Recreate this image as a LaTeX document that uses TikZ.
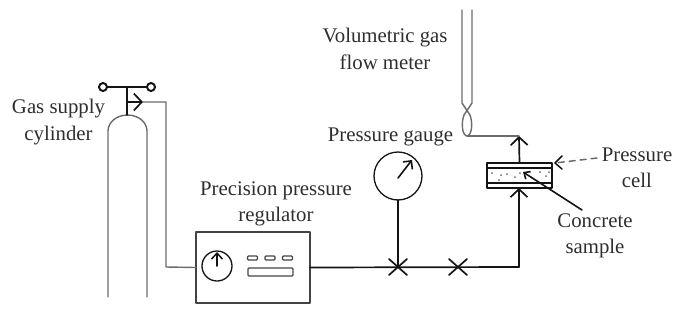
\documentclass[tikz,border=0pt]{standalone}
\usepackage{fontspec}
\setmainfont{Liberation Serif}
\usetikzlibrary{arrows.meta,calc}
\definecolor{RigInk}{gray}{0.08}
\definecolor{RigThin}{gray}{0.42}
\definecolor{RigText}{gray}{0.18}
\tikzset{
    rig/diagram/.style={
        x=1pt, y=-1pt,
        line cap=round,
        line join=round,
        every node/.style={inner sep=0pt, outer sep=0pt}
    },
    rig/label/.style={font=\fontsize{20.8}{26.5}\selectfont, text=RigText, align=center},
    rig/pipe/.style={draw=RigInk, line width=1.7pt},
    rig/thin/.style={draw=RigThin, line width=1.4pt},
    rig/box/.style={draw=RigInk!80!white, line width=1.4pt},
    rig/flow/.style={draw=RigInk, line width=1.7pt, -{Straight Barb[length=8pt, width=17pt, line width=1.7pt]}},
    rig/dial/.style={circle, draw=RigInk, line width=1.3pt, fill=white, inner sep=0pt},
    rig/knob/.style={circle, draw=RigInk, line width=2pt, fill=white, inner sep=0pt, minimum size=8pt},
    rig/lamp/.style={rounded corners=1pt, draw=RigInk!80!white, line width=1.3pt},
    rig/valve/.style={draw=RigInk, line width=1.7pt}
}
\begin{document}
\begin{tikzpicture}[rig/diagram]
    \useasboundingbox (0,0) rectangle (681,322);
    % cylinder
    \draw[rig/thin] (108,297) -- (108,131) arc[start angle=180, end angle=0, x radius=19.5, y radius=-16] -- (147,297);
    \node[rig/knob] (knobL) at (103,87) {};
    \node[rig/knob] (knobR) at (151,87) {};
    \draw[rig/pipe] (knobL) -- (knobR);
    \coordinate (stemTop) at (127,87);
    \coordinate (stemEnd) at (127,115);
    \draw[rig/pipe] (stemTop) -- (stemEnd);
    \coordinate (outTee) at (127,102);
    \coordinate (outTip) at (143,102);
    \draw[rig/flow] (outTee) -- (outTip);
    % regulator
    \node[rig/box, draw, minimum width=114pt, minimum height=71pt] (regulator) at (253,267.5) {};
    \node[rig/dial, minimum size=30pt] (regDial) at (217,266) {};
    \coordinate (regDialA) at (217,266);
    \coordinate (regDialB) at (217,252);
    \draw[draw=RigInk, line width=1.5pt, -{Straight Barb[length=6pt, width=11pt, line width=1.5pt]}] (regDialA) -- (regDialB);
    \foreach \x in {252.5,270,287.5} {
        \draw[rig/lamp] (\x-5,256) rectangle (\x+5,260);
    }
    \draw[rig/lamp] (248,268) rectangle (293,276);
    \draw[rig/thin] (outTip) -- (166,102) -- (166,267) -- (regulator.west);
    % main line
    \coordinate (valveA) at (398,267);
    \coordinate (valveB) at (458,267);
    \coordinate (riser) at (519,267);
    \draw[rig/pipe] (regulator.east) -- (riser);
    \foreach \p in {valveA,valveB} {
        \draw[rig/valve] ($(\p)+(-9,-8)$) -- ($(\p)+(9,8)$)
                         ($(\p)+(-9,8)$) -- ($(\p)+(9,-8)$);
    }
    % gauge
    \node[rig/dial, minimum size=48pt] (gauge) at (398,176) {};
    \draw[rig/pipe] (gauge) -- (valveA);
    \coordinate (needleA) at (398,178);
    \coordinate (needleB) at (412,160);
    \draw[draw=RigInk, line width=1.6pt, -{Straight Barb[length=6pt, width=12pt, line width=1.6pt]}] (needleA) -- (needleB);
    % cell
    \node[rig/box, draw=RigInk, line width=1.9pt, minimum width=65pt, minimum height=25pt] (cell) at (519.5,175.5) {};
    \draw[rig/pipe] (cell.west |- 0,168) -- (cell.east |- 0,168)
                    (cell.west |- 0,183) -- (cell.east |- 0,183);
    \foreach \x/\y in {492/173,501/175,507/174,515/177,520/173,531/177,540/172,546/176,549/172,499/180} {
        \fill[RigThin] (\x,\y) circle (1);
    }
    \coordinate (cellIn) at (519,188);
    \draw[rig/flow] (riser) -- (cellIn);
    \coordinate (cellOut) at (519,136);
    \draw[rig/flow] (cell.north) -- (cellOut);
    % meter
    \draw[rig/thin] (462,10) -- (462,103) -- (470,115) .. controls (473,123) and (472,135) .. (467,136)
        .. controls (462,135) and (461,123) .. (464,115) -- (472,103) -- (472,10);
    \draw[rig/thin] (467,136) -- (cellOut);
    % labels
    \node[rig/label] (cylLabel) at (58.5,122) {Gas supply\\cylinder};
    \node[rig/label] (regLabel) at (276,204) {Precision pressure\\regulator};
    \node[rig/label] (gaugeLabel) at (390.5,137) {Pressure gauge};
    \node[rig/label] (meterLabel) at (385,49) {Volumetric gas\\flow meter};
    \node[rig/label] (cellLabel) at (637,168) {Pressure\\cell};
    \node[rig/label] (sampleLabel) at (595,236) {Concrete\\sample};
    % leaders
    \coordinate (cellTip) at (555,163);
    \coordinate (cellTail) at (597,158);
    \draw[draw=RigThin, line width=1.5pt, dash pattern=on 6pt off 5pt] (cellTail) -- (cellTip);
    \draw[draw=RigInk, line width=1.5pt] ($(cellTip)+(7,-7)$) -- (cellTip) -- ($(cellTip)+(7,6)$);
    \coordinate (sampleTip) at (523,172);
    \coordinate (sampleTail) at (582,210);
    \draw[draw=RigInk, line width=1.6pt, -{Straight Barb[length=5pt, width=9pt]}] (sampleTail) -- (sampleTip);
\end{tikzpicture}
\end{document}
